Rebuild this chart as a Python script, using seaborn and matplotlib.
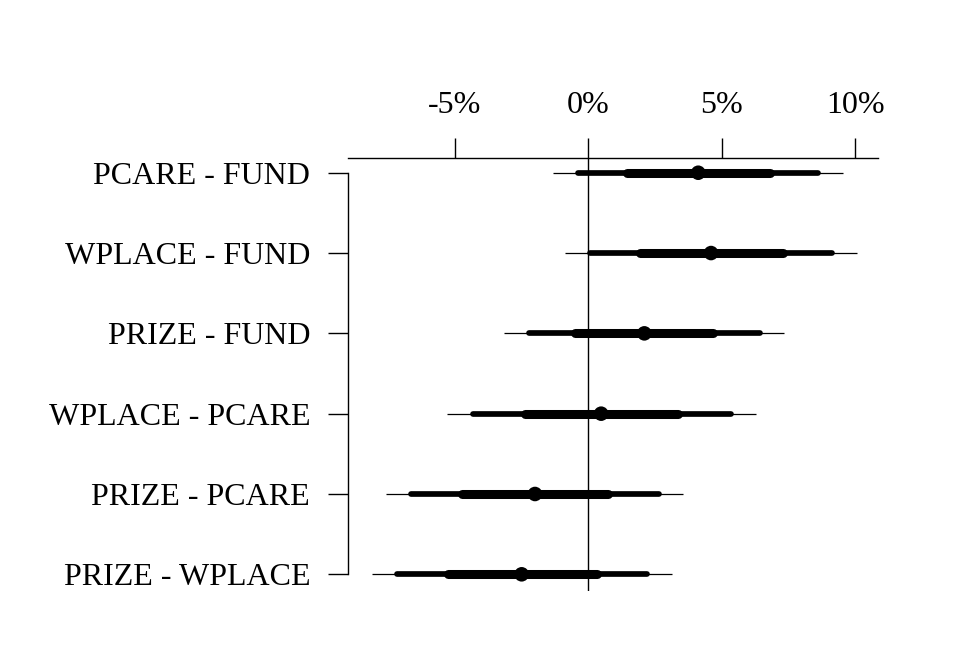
import pandas as pd
import matplotlib
matplotlib.use("Agg")
import matplotlib.pyplot as plt
import seaborn as sns

# comparisons, top to bottom
labels = ["PCARE - FUND", "WPLACE - FUND", "PRIZE - FUND",
          "WPLACE - PCARE", "PRIZE - PCARE", "PRIZE - WPLACE"]
est = [4.12, 4.60, 2.10, 0.48, -2.00, -2.50]
# outer (thin) interval
lo_outer = [-1.31, -0.88, -3.16, -5.31, -7.60, -8.12]
hi_outer = [9.53, 10.06, 7.35, 6.29, 3.56, 3.15]
# middle interval
lo_mid = [-0.38, 0.05, -2.24, -4.33, -6.64, -7.18]
hi_mid = [8.62, 9.14, 6.45, 5.33, 2.64, 2.20]
# inner (thick) interval
lo_in = [1.45, 1.92, -0.50, -2.37, -4.74, -5.27]
hi_in = [6.80, 7.31, 4.69, 3.37, 0.75, 0.31]

xticks = [-5, 0, 5, 10]
xticklabels = ["-5%", "0%", "5%", "10%"]

df = pd.DataFrame({"label": labels, "est": est,
                   "lo_outer": lo_outer, "hi_outer": hi_outer,
                   "lo_mid": lo_mid, "hi_mid": hi_mid,
                   "lo_in": lo_in, "hi_in": hi_in})
df["pos"] = range(1, len(df) + 1)

sns.set_theme(style="white")
plt.rcParams["font.family"] = ["Liberation Serif", "DejaVu Serif"]

fig = plt.figure(figsize=(9.6, 6.72), dpi=100)
ax = fig.add_axes([0.3625, 0.121, 0.5521, 0.6443])

ax.axvline(0, color="black", lw=1.0, zorder=1)
ax.hlines(df["pos"], df["lo_outer"], df["hi_outer"], color="black", lw=0.9, zorder=2)
ax.hlines(df["pos"], df["lo_mid"], df["hi_mid"], color="black", lw=4.1,
          capstyle="round", zorder=3)
ax.hlines(df["pos"], df["lo_in"], df["hi_in"], color="black", lw=6.5,
          capstyle="round", zorder=4)
sns.scatterplot(data=df, x="est", y="pos", color="black", s=110,
                edgecolor="none", ax=ax, zorder=5)

ax.set_xlim(-9.01, 10.86)
ax.set_ylim(6.204, 0.813)

ax.xaxis.tick_top()
ax.set_xticks(xticks)
ax.set_xticklabels(xticklabels)
ax.set_yticks(df["pos"])
ax.set_yticklabels(df["label"])
ax.set_xlabel("")
ax.set_ylabel("")

ax.tick_params(axis="x", top=True, bottom=False, direction="out", length=14.4,
               width=1.0, pad=12.5, labelsize=23, color="black", labelcolor="black")
ax.tick_params(axis="y", left=True, direction="out", length=14.4,
               width=1.0, pad=12.8, labelsize=23, color="black", labelcolor="black")

for side in ["right", "bottom"]:
    ax.spines[side].set_visible(False)
ax.spines["top"].set_color("black")
ax.spines["top"].set_linewidth(1.0)
ax.spines["left"].set_color("black")
ax.spines["left"].set_linewidth(1.0)
ax.spines["left"].set_bounds(1, 6)

fig.savefig("out.png", dpi=100, facecolor="white")
